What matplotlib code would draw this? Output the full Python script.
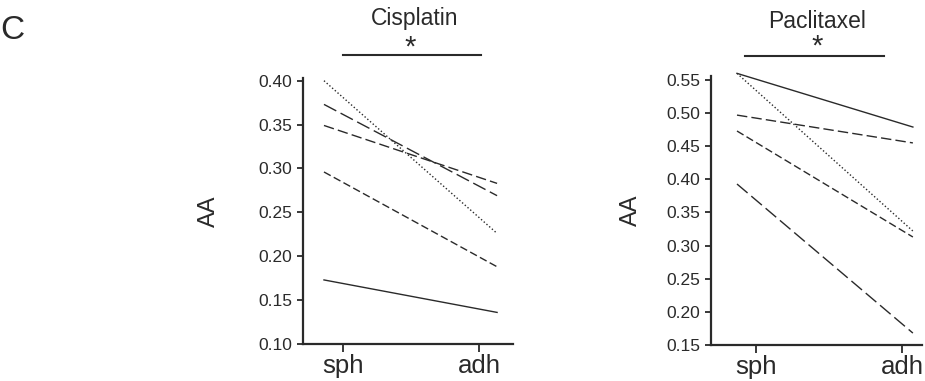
import matplotlib
matplotlib.use("Agg")
import matplotlib.pyplot as plt

plt.rcParams['font.family'] = ['Liberation Sans', 'DejaVu Sans']

groups = ["sph", "adh"]

# Cisplatin: one line per sample, (sph, adh)
cis_sph = [0.400, 0.373, 0.349, 0.296, 0.173]
cis_adh = [0.226, 0.269, 0.283, 0.188, 0.136]
cis_styles = ["dotted", "longdash", "meddash", "shortdash", "solid"]

# Paclitaxel
pac_sph = [0.560, 0.560, 0.497, 0.473, 0.393]
pac_adh = [0.479, 0.322, 0.455, 0.313, 0.168]
pac_styles = ["solid", "dotted", "meddash", "shortdash", "longdash"]

dash = {
    "solid": "-",
    "dotted": (0, (1.0, 1.6)),
    "shortdash": (0, (5.5, 2.5)),
    "meddash": (0, (7.5, 3.0)),
    "longdash": (0, (10.0, 3.5)),
}
ink = "#2a2a2a"

fig = plt.figure(figsize=(9.25, 3.81), dpi=100)


def panel(rect, sph, adh, styles, ylim, yticks, xlim, xticks, title, bar,
          star_x, title_x, ys, labelpad):
    ax = fig.add_axes(rect)
    ax.set_facecolor("white")
    for a, b, s in zip(sph, adh, styles):
        ax.plot([0, 1], [a, b], color=ink, lw=1.0, linestyle=dash[s],
                clip_on=False)
    ax.set_xlim(*xlim)
    ax.set_ylim(*ylim)
    ax.set_yticks(yticks)
    ax.set_yticklabels(["%.2f" % t for t in yticks], fontsize=12.5, color=ink)
    ax.set_xticks(xticks)
    ax.set_xticklabels(groups, fontsize=18.5, color=ink)
    for side in ("top", "right"):
        ax.spines[side].set_visible(False)
    for side in ("left", "bottom"):
        ax.spines[side].set_linewidth(1.6)
        ax.spines[side].set_color(ink)
    ax.tick_params(axis="y", length=4.5, width=1.3, color=ink, pad=3)
    ax.tick_params(axis="x", length=6, width=1.3, color=ink, pad=1)
    ax.set_ylabel("AA", fontsize=17, color=ink, labelpad=labelpad)
    # significance bar and title above the axes
    tr = ax.get_xaxis_transform()
    ax.plot(bar, [ys[0], ys[0]], color=ink, lw=1.5, transform=tr, clip_on=False)
    ax.text(star_x, ys[1], "*", transform=tr, ha="center", va="center",
            fontsize=21, color=ink)
    ax.text(title_x, ys[2], title, transform=tr, ha="center",
            va="baseline", fontsize=16.5, color=ink)
    return ax


panel([0.3276, 0.0971, 0.227, 0.698], cis_sph, cis_adh, cis_styles,
      (0.10, 0.403), [0.10, 0.15, 0.20, 0.25, 0.30, 0.35, 0.40],
      (-0.121, 1.092), [0.110, 0.896], "Cisplatin", [0.11, 0.908],
      0.497, 0.526, (1.086, 1.115, 1.199), 28)

panel([0.7686, 0.0945, 0.228, 0.706], pac_sph, pac_adh, pac_styles,
      (0.15, 0.556), [0.15, 0.20, 0.25, 0.30, 0.35, 0.40, 0.45, 0.50, 0.55],
      (-0.148, 1.051), [0.108, 0.9375], "Paclitaxel", [0.045, 0.835],
      0.4545, 0.4545, (1.074, 1.110, 1.178), 18)

fig.text(0.0, 0.92, "C", fontsize=24, color=ink, ha="left", va="center")

fig.savefig("out.png", dpi=100)
